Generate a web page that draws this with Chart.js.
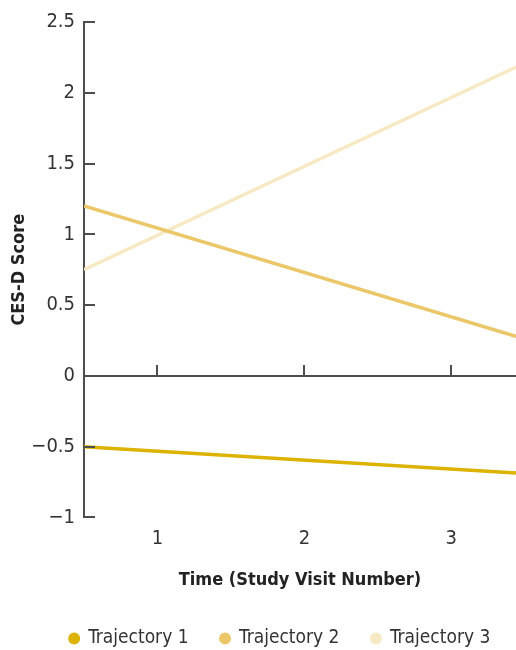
<!DOCTYPE html>
<html>
<head>
<meta charset="utf-8">
<script src="https://cdn.jsdelivr.net/npm/chart.js@4"></script>
<style>
  html, body { margin: 0; padding: 0; background: #fff; }
  #wrap { width: 516px; height: 650px; }
</style>
</head>
<body>
<div id="wrap"><canvas id="chart"></canvas></div>
<script>
// Data
const xPoints = [0.5, 3.5];
const trajectory1 = [-0.5, -0.69];
const trajectory2 = [1.2, 0.26];
const trajectory3 = [0.75, 2.21];
const seriesNames = ['Trajectory 1', 'Trajectory 2', 'Trajectory 3'];
const seriesColors = ['#dcb300', '#ebc76a', '#f7e9c4'];
const xTicks = [1, 2, 3];
const yTicks = [-1, -0.5, 0, 0.5, 1, 1.5, 2, 2.5];

const FONT = '"Liberation Sans Narrow", "DejaVu Sans Condensed", "Liberation Sans", sans-serif';
const AXIS = '#4d4d4d';

// zero line with upward ticks, and inward ticks on the y axis
const axisMarks = {
  id: 'axisMarks',
  afterLayout(chart) {
    // legend sits a bit right of the canvas centre in the original
    chart.legend.left += 22;
    chart.legend.right += 22;
    chart.legend.top += 6;
  },
  afterDatasetsDraw(chart) {
    const { ctx, chartArea, scales: { x, y } } = chart;
    ctx.save();
    ctx.strokeStyle = AXIS;
    ctx.lineWidth = 2;
    const y0 = Math.round(y.getPixelForValue(0));
    ctx.beginPath();
    ctx.moveTo(chartArea.left, y0);
    ctx.lineTo(chartArea.right, y0);
    xTicks.forEach(v => {
      const px = Math.round(x.getPixelForValue(v));
      ctx.moveTo(px, y0);
      ctx.lineTo(px, y0 - 11);
    });
    yTicks.forEach(v => {
      const py = Math.round(y.getPixelForValue(v));
      ctx.moveTo(chartArea.left, py);
      ctx.lineTo(chartArea.left + 11, py);
    });
    ctx.stroke();
    ctx.restore();
  }
};

const datasets = [trajectory1, trajectory2, trajectory3].map((vals, i) => ({
  label: seriesNames[i],
  data: xPoints.map((xv, j) => ({ x: xv, y: vals[j] })),
  borderColor: seriesColors[i],
  backgroundColor: seriesColors[i],
  borderWidth: 3.5,
  pointRadius: 0,
  fill: false,
  tension: 0
}));

new Chart(document.getElementById('chart'), {
  type: 'line',
  data: { datasets },
  plugins: [axisMarks],
  options: {
    responsive: true,
    maintainAspectRatio: false,
    animation: false,
    layout: { padding: { top: 22, right: 0, left: 0, bottom: -2 } },
    scales: {
      x: {
        type: 'linear',
        min: 0.5,
        max: 3.44,
        afterBuildTicks: s => { s.ticks = xTicks.map(v => ({ value: v })); },
        grid: { display: false, drawTicks: false },
        border: { display: false },
        ticks: { padding: 9, color: '#333', font: { family: FONT, size: 20 } },
        title: {
          display: true,
          text: 'Time (Study Visit Number)',
          color: '#222',
          font: { family: FONT, size: 18, weight: 'bold' },
          padding: { top: 10, bottom: 0 }
        }
      },
      y: {
        min: -1,
        max: 2.5,
        afterBuildTicks: s => { s.ticks = yTicks.map(v => ({ value: v })); },
        afterFit: s => { s.width = 84; },
        grid: { display: false, drawTicks: false },
        border: { display: true, color: AXIS, width: 2 },
        ticks: {
          padding: 9,
          color: '#333',
          font: { family: FONT, size: 20 },
          callback: v => String(v).replace('-', '\u2212')
        },
        title: {
          display: true,
          text: 'CES-D Score',
          color: '#222',
          font: { family: FONT, size: 18, weight: 'bold' },
          padding: { top: 9, bottom: 0 }
        }
      }
    },
    plugins: {
      legend: {
        position: 'bottom',
        labels: {
          usePointStyle: true,
          pointStyle: 'circle',
          boxWidth: 9,
          boxHeight: 6,
          padding: 32,
          color: '#333',
          font: { family: FONT, size: 19 }
        }
      },
      tooltip: { enabled: false }
    }
  }
});
</script>
</body>
</html>
